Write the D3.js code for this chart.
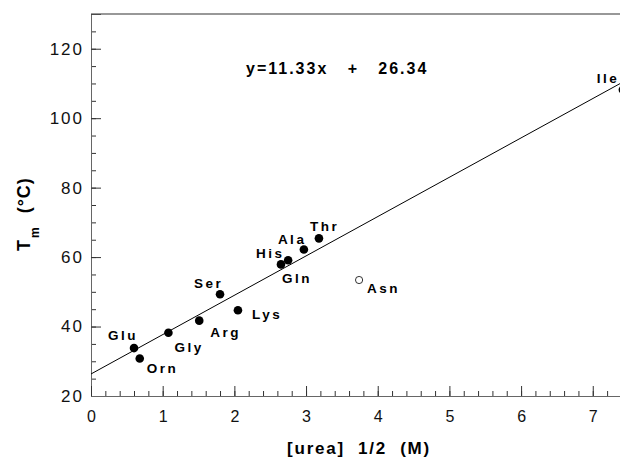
<!DOCTYPE html>
<html>
<head>
<meta charset="utf-8">
<script src="https://cdn.jsdelivr.net/npm/d3@7"></script>
<style>
  html, body { margin: 0; padding: 0; background: #fff; }
  svg { display: block; font-family: "Liberation Sans", Arial, sans-serif; }
</style>
</head>
<body>
<div id="chart"></div>
<script>
// Datos: aminoácidos, [urea] 1/2 (M) y Tm (°C)
const aminoacidos = ["Glu", "Orn", "Gly", "Arg", "Ser", "Lys", "His", "Gln", "Ala", "Thr", "Asn", "Ile"];
const ureaMitad  = [0.60, 0.68, 1.08, 1.51, 1.80, 2.05, 2.65, 2.75, 2.97, 3.18, 3.74, 7.42];
const tm         = [33.8, 30.8, 38.2, 41.7, 49.3, 44.7, 57.9, 59.1, 62.2, 65.4, 53.4, 108.2];
const abierto    = [false, false, false, false, false, false, false, false, false, false, true, false];

// Recta de ajuste
const pendiente = 11.33;
const intercepto = 26.34;

// Ticks
const yTicks = [20, 40, 60, 80, 100, 120];
const xTicks = [0, 1, 2, 3, 4, 5, 6, 7];

// Desplazamiento de las etiquetas respecto al punto (px)
const etiquetaDx = [-26, 7, 6, 11, -26, 14, -25, -6, -26, -9, 8, -26];
const etiquetaDy = [-8, 15, 19, 16, -6, 9, -6, 23, -5, -7, 13, -7];

const W = 620, H = 466;
const mIzq = 91, mDer = 620, mSup = 14, mInf = 396;

const svg = d3.select("#chart").append("svg")
    .attr("width", W)
    .attr("height", H);

const x = d3.scaleLinear().domain([0, 7.38]).range([mIzq, mDer]);
const y = d3.scaleLinear().domain([20, 130]).range([mInf, mSup]);

svg.append("clipPath").attr("id", "area")
  .append("rect")
    .attr("x", mIzq).attr("y", mSup)
    .attr("width", mDer - mIzq).attr("height", mInf - mSup);

// Eje Y: ticks mayores y menores hacia dentro
const yMenores = d3.range(20, 131, 5);
const yMen = svg.append("g")
    .attr("transform", `translate(${mIzq},0)`)
    .call(d3.axisLeft(y).tickValues(yMenores).tickSize(-5).tickFormat(""));
yMen.select(".domain").remove();
yMen.selectAll(".tick line").attr("stroke", "#333");

const ejeY = svg.append("g")
    .attr("transform", `translate(${mIzq},0)`)
    .call(d3.axisLeft(y).tickValues(yTicks).tickSize(-10).tickPadding(7));
ejeY.select(".domain").attr("stroke", "#666");
ejeY.selectAll(".tick line").attr("stroke", "#333");
ejeY.selectAll("text")
    .attr("font-size", 17)
    .attr("letter-spacing", 2)
    .attr("fill", "#111")
    .attr("font-family", "Liberation Sans, Arial, sans-serif");

// Eje X
const xMenores = d3.range(0, 7.39, 0.2);
const xMen = svg.append("g")
    .attr("transform", `translate(0,${mInf})`)
    .call(d3.axisBottom(x).tickValues(xMenores).tickSize(-5).tickFormat(""));
xMen.select(".domain").remove();
xMen.selectAll(".tick line").attr("stroke", "#333");

const ejeX = svg.append("g")
    .attr("transform", `translate(0,${mInf})`)
    .call(d3.axisBottom(x).tickValues(xTicks).tickSize(-10).tickPadding(15));
ejeX.select(".domain").attr("stroke", "#666");
ejeX.selectAll(".tick line").attr("stroke", "#333");
ejeX.selectAll("text")
    .attr("font-size", 16)
    .attr("fill", "#111")
    .attr("font-family", "Liberation Sans, Arial, sans-serif");

// Borde superior
svg.append("line")
    .attr("x1", mIzq).attr("x2", mDer)
    .attr("y1", mSup).attr("y2", mSup)
    .attr("stroke", "#333").attr("stroke-width", 1.2);

const plot = svg.append("g").attr("clip-path", "url(#area)");

// Recta de regresión
const xs = x.domain();
plot.append("line")
    .attr("x1", x(xs[0])).attr("y1", y(pendiente * xs[0] + intercepto))
    .attr("x2", x(xs[1])).attr("y2", y(pendiente * xs[1] + intercepto))
    .attr("stroke", "#000").attr("stroke-width", 1);

// Puntos
plot.selectAll("circle")
    .data(aminoacidos)
    .enter()
    .append("circle")
    .attr("cx", (d, i) => x(ureaMitad[i]))
    .attr("cy", (d, i) => y(tm[i]))
    .attr("r", (d, i) => abierto[i] ? 3.6 : 4.3)
    .attr("fill", (d, i) => abierto[i] ? "#fff" : "#000")
    .attr("stroke", "#000")
    .attr("stroke-width", (d, i) => abierto[i] ? 0.8 : 0);

// Etiquetas de los puntos
svg.selectAll(".etiqueta")
    .data(aminoacidos)
    .enter()
    .append("text")
    .attr("class", "etiqueta")
    .attr("x", (d, i) => x(ureaMitad[i]) + etiquetaDx[i])
    .attr("y", (d, i) => y(tm[i]) + etiquetaDy[i])
    .attr("font-size", 13.5)
    .attr("font-weight", "bold")
    .attr("letter-spacing", 2.5)
    .text(d => d);

// Ecuación
svg.append("text")
    .attr("x", 246)
    .attr("y", 74)
    .attr("font-size", 16)
    .attr("font-weight", "bold")
    .attr("letter-spacing", 2)
    .style("white-space", "pre")
    .text(`y=${pendiente}x   +   ${intercepto}`);

// Título eje X
svg.append("text")
    .attr("x", 287)
    .attr("y", 454)
    .attr("font-size", 17)
    .attr("font-weight", "bold")
    .attr("letter-spacing", 1.8)
    .style("white-space", "pre")
    .text("[urea]  1/2  (M)");

// Título eje Y
const tituloY = svg.append("text")
    .attr("transform", "translate(30,251) rotate(-90)")
    .attr("font-size", 18)
    .attr("font-weight", "bold")
    .style("white-space", "pre");
tituloY.append("tspan").text("T");
tituloY.append("tspan").attr("font-size", 12).attr("dy", 9).attr("dx", 2).text("m");
tituloY.append("tspan").attr("dy", -9).attr("dx", 14).attr("letter-spacing", 1).text("(°C)");
</script>
</body>
</html>
